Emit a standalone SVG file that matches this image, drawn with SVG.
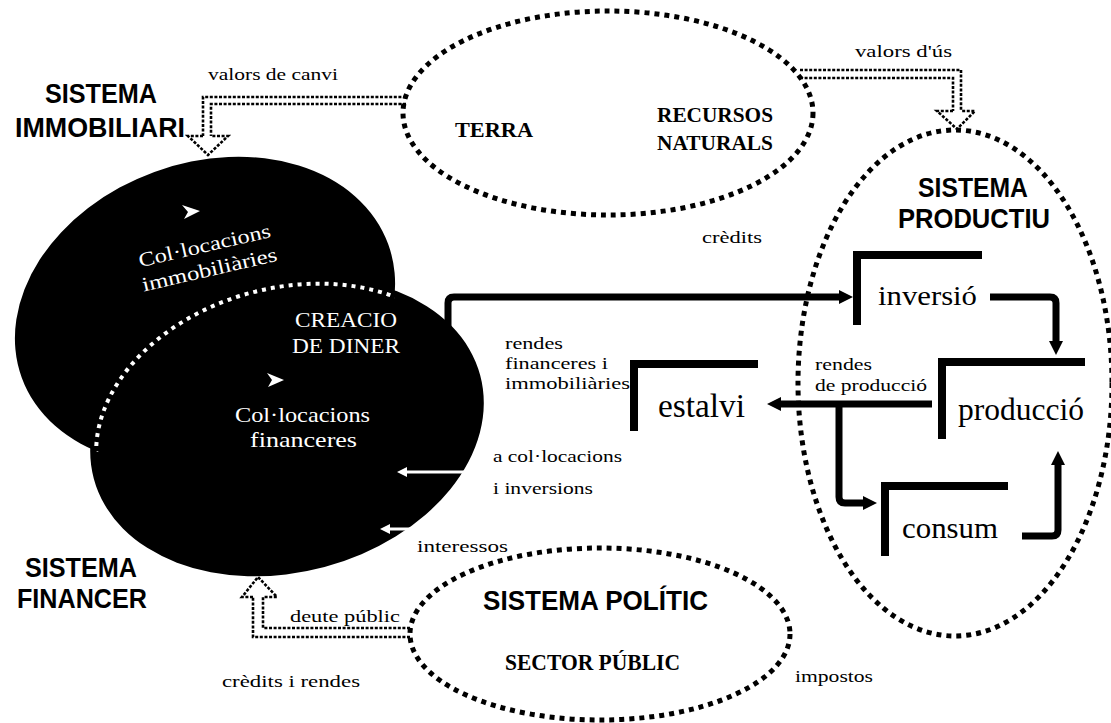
<svg xmlns="http://www.w3.org/2000/svg" width="1111" height="723" viewBox="0 0 1111 723">
<style>
.dots{fill:none;stroke:#000;stroke-width:5;stroke-dasharray:5 5}
.hol{fill:none;stroke:#000;stroke-width:2.6;stroke-dasharray:3 1.6}
.thick{fill:none;stroke:#000;stroke-width:7}
.bar{fill:none;stroke:#000;stroke-width:8}
.warr{fill:none;stroke:#fff;stroke-width:3}
.sys{font-family:"Liberation Sans",Arial,sans-serif;font-weight:700;fill:#000}
.ser{font-family:"Liberation Serif","Times New Roman",serif;fill:#000}
.bs{font-family:"Liberation Serif","Times New Roman",serif;font-weight:700;fill:#000}
.wt{font-family:"Liberation Serif","Times New Roman",serif;fill:#fff}
</style>
<defs>
<marker id="ah" markerUnits="userSpaceOnUse" markerWidth="14" markerHeight="14" viewBox="0 0 14 14" refX="4" refY="7" orient="auto">
<path d="M0,0 L14,7 L0,14 z" fill="#000"/>
</marker>
<marker id="wah" markerUnits="userSpaceOnUse" markerWidth="10" markerHeight="10" viewBox="0 0 10 10" refX="3" refY="5" orient="auto">
<path d="M0,0 L10,5 L0,10 z" fill="#fff"/>
</marker>
<clipPath id="clip1">
<ellipse cx="205" cy="311" rx="195" ry="148" transform="rotate(-20 205 311)"/>
</clipPath>
</defs>
<rect width="1111" height="723" fill="#fff"/>

<g id="node-immobiliari">
<ellipse cx="205" cy="311" rx="195" ry="148" transform="rotate(-20 205 311)" fill="#000"/>
<path d="M182,205 L200,211 L184,219 L188,212 z" fill="#fff"/>
<text class="wt" font-size="20" text-anchor="middle" transform="translate(206 252) rotate(-13)" textLength="135" lengthAdjust="spacingAndGlyphs">Col·locacions</text>
<text class="wt" font-size="20" text-anchor="middle" transform="translate(211 276) rotate(-13)" textLength="138" lengthAdjust="spacingAndGlyphs">immobiliàries</text>
<text class="sys" font-size="27" x="45" y="103" textLength="112" lengthAdjust="spacingAndGlyphs">SISTEMA</text>
<text class="sys" font-size="27" x="15" y="137" textLength="170" lengthAdjust="spacingAndGlyphs">IMMOBILIARI</text>
</g>

<g id="node-financer">
<ellipse cx="287" cy="427" rx="200" ry="145" transform="rotate(-15 287 427)" fill="#000"/>
<g clip-path="url(#clip1)">
<ellipse cx="287" cy="427" rx="194" ry="139" transform="rotate(-15 287 427)" fill="none" stroke="#fff" stroke-width="4" stroke-dasharray="4 5"/>
</g>
<path d="M267,373 L284,380 L268,387 L272,380 z" fill="#fff"/>
<text class="wt" font-size="21" x="295" y="327" textLength="102" lengthAdjust="spacingAndGlyphs">CREACIO</text>
<text class="wt" font-size="21" x="292" y="353" textLength="108" lengthAdjust="spacingAndGlyphs">DE DINER</text>
<text class="wt" font-size="21" x="235" y="422" textLength="135" lengthAdjust="spacingAndGlyphs">Col·locacions</text>
<text class="wt" font-size="21" x="250" y="447" textLength="107" lengthAdjust="spacingAndGlyphs">financeres</text>
<text class="sys" font-size="27" x="25" y="577" textLength="112" lengthAdjust="spacingAndGlyphs">SISTEMA</text>
<text class="sys" font-size="27" x="17" y="608" textLength="130" lengthAdjust="spacingAndGlyphs">FINANCER</text>
</g>

<g id="node-terra">
<ellipse class="dots" cx="608" cy="113" rx="205" ry="102"/>
<text class="bs" font-size="21" x="455" y="137" textLength="78" lengthAdjust="spacingAndGlyphs">TERRA</text>
<text class="bs" font-size="21" x="657" y="122" textLength="116" lengthAdjust="spacingAndGlyphs">RECURSOS</text>
<text class="bs" font-size="21" x="657" y="150" textLength="116" lengthAdjust="spacingAndGlyphs">NATURALS</text>
</g>

<g id="node-productiu">
<ellipse class="dots" cx="955" cy="383" rx="157" ry="253"/>
<text class="sys" font-size="28" x="918" y="197" textLength="110" lengthAdjust="spacingAndGlyphs">SISTEMA</text>
<text class="sys" font-size="28" x="898" y="228" textLength="152" lengthAdjust="spacingAndGlyphs">PRODUCTIU</text>
</g>

<g id="node-politic">
<ellipse class="dots" cx="600" cy="634" rx="190" ry="86"/>
<text class="sys" font-size="27" x="483" y="610" textLength="225" lengthAdjust="spacingAndGlyphs">SISTEMA POLÍTIC</text>
<text class="bs" font-size="23" x="505" y="670" textLength="175" lengthAdjust="spacingAndGlyphs">SECTOR PÚBLIC</text>
</g>

<g id="node-inversio">
<path class="bar" d="M857,325 V255 H982"/>
<text class="ser" font-size="28" x="878" y="305" textLength="99" lengthAdjust="spacingAndGlyphs">inversió</text>
</g>

<g id="node-produccio">
<path class="bar" d="M942,439 V362 H1085"/>
<text class="ser" font-size="31" x="958" y="420" textLength="126" lengthAdjust="spacingAndGlyphs">producció</text>
</g>

<g id="node-estalvi">
<path class="bar" d="M634,431 V364 H758"/>
<text class="ser" font-size="33" x="658" y="417" textLength="87" lengthAdjust="spacingAndGlyphs">estalvi</text>
</g>

<g id="node-consum">
<path class="bar" d="M885,556 V486 H1008"/>
<text class="ser" font-size="30" x="902" y="538" textLength="96" lengthAdjust="spacingAndGlyphs">consum</text>
</g>

<g id="connectors">
<path class="hol" d="M406,97 H203 V136"/>
<path class="hol" d="M406,104 H211 V136"/>
<path class="hol" d="M203,136 H188 L208,155 L228,136 H211"/>
<path class="hol" d="M800,70 H961 V111"/>
<path class="hol" d="M800,78 H953 V111"/>
<path class="hol" d="M953,111 H937 L957,129 L975,111 H961"/>
<path class="hol" d="M410,637 H253 V597"/>
<path class="hol" d="M410,628 H263 V597"/>
<path class="hol" d="M253,597 H242 L258,577 L277,597 H263"/>
<path class="thick" d="M448,345 V303 Q448,297 454,297 H843" marker-end="url(#ah)"/>
<path class="thick" d="M990,297 H1050 Q1056,297 1056,303 V345" marker-end="url(#ah)"/>
<path class="thick" d="M932,404 H777" marker-end="url(#ah)"/>
<path class="thick" d="M839,404 V497 Q839,503 845,503 H867" marker-end="url(#ah)"/>
<path class="thick" d="M1022,536 H1052 Q1058,536 1058,530 V461" marker-end="url(#ah)"/>
<path class="warr" d="M467,472 H404" marker-end="url(#wah)"/>
<path class="warr" d="M415,529 H387" marker-end="url(#wah)"/>
</g>

<g id="labels">
<text class="ser" font-size="17" x="208" y="80" textLength="130" lengthAdjust="spacingAndGlyphs">valors de canvi</text>
<text class="ser" font-size="17" x="855" y="57" textLength="97" lengthAdjust="spacingAndGlyphs">valors d'ús</text>
<text class="ser" font-size="17" x="702" y="243" textLength="60" lengthAdjust="spacingAndGlyphs">crèdits</text>
<text class="ser" font-size="17" x="505" y="349" textLength="58" lengthAdjust="spacingAndGlyphs">rendes</text>
<text class="ser" font-size="17" x="505" y="369" textLength="103" lengthAdjust="spacingAndGlyphs">financeres i</text>
<text class="ser" font-size="17" x="505" y="389" textLength="125" lengthAdjust="spacingAndGlyphs">immobiliàries</text>
<text class="ser" font-size="17" x="815" y="370" textLength="57" lengthAdjust="spacingAndGlyphs">rendes</text>
<text class="ser" font-size="17" x="815" y="391" textLength="112" lengthAdjust="spacingAndGlyphs">de producció</text>
<text class="ser" font-size="17" x="493" y="462" textLength="129" lengthAdjust="spacingAndGlyphs">a col·locacions</text>
<text class="ser" font-size="17" x="493" y="494" textLength="100" lengthAdjust="spacingAndGlyphs">i inversions</text>
<text class="ser" font-size="17" x="417" y="552" textLength="91" lengthAdjust="spacingAndGlyphs">interessos</text>
<text class="ser" font-size="17" x="290" y="622" textLength="110" lengthAdjust="spacingAndGlyphs">deute públic</text>
<text class="ser" font-size="17" x="222" y="687" textLength="138" lengthAdjust="spacingAndGlyphs">crèdits i rendes</text>
<text class="ser" font-size="17" x="795" y="682" textLength="78" lengthAdjust="spacingAndGlyphs">impostos</text>
</g>
</svg>
